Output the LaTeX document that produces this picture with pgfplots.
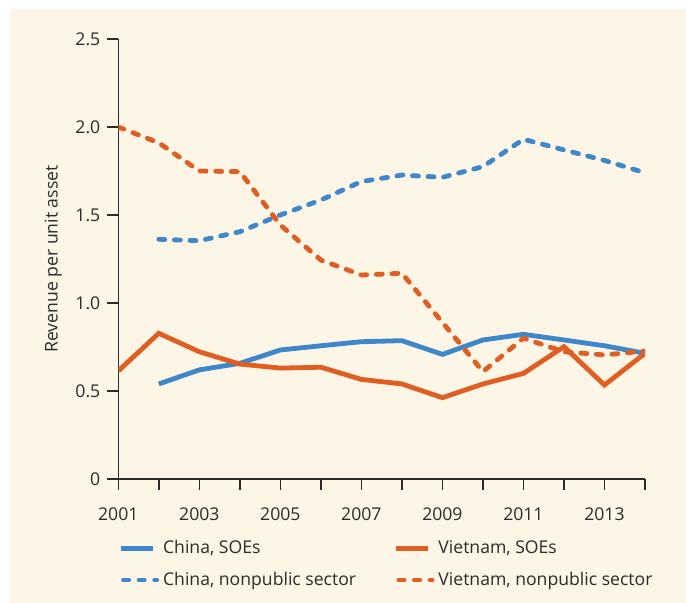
\documentclass[border=0pt]{standalone}
\usepackage{fontspec}
\setmainfont{Open Sans}
\usepackage{pgfplots}
\pgfplotsset{compat=1.18}
\definecolor{cnblue}{HTML}{3E87CB}
\definecolor{vnorange}{HTML}{E05E22}
\definecolor{panel}{HTML}{FDF5E5}
\definecolor{ink}{HTML}{2B2B2B}
\pgfplotsset{
  solidleg/.style={legend image code/.code={\draw[##1] (0pt,0pt) -- (16pt,0pt);}},
  dotleg/.style={legend image code/.code={\draw[##1, line width=2pt] (1pt,0pt) -- (18pt,0pt);}},
}
\begin{document}
\begin{tikzpicture}
\fill[white] (0,0) rectangle (343pt,-301.5pt);
\fill[panel] (5pt,-4.5pt) rectangle (343pt,-301.5pt);
\begin{axis}[
  at={(59.15pt,-239.5pt)}, anchor=south west,
  scale only axis, width=263.35pt, height=220pt,
  xmin=2001, xmax=2014, ymin=0, ymax=2.5,
  axis x line*=bottom, axis y line*=left,
  axis line style={ink,line width=0.7pt,-},
  tick style={ink,line width=0.7pt},
  tick align=outside, major tick length=5.5pt,
  xtick={2001,...,2014},
  xticklabels={2001,,2003,,2005,,2007,,2009,,2011,,2013,},
  ytick={0,0.5,1,1.5,2,2.5},
  yticklabels={0,0.5,1.0,1.5,2.0,2.5},
  /pgf/number format/assume math mode=true,
  tick label style={font=\fontsize{8.8}{10}\selectfont, text=ink},
  xticklabel style={yshift=-5.5pt},
  ylabel={Revenue per unit asset},
  ylabel style={at={(axis description cs:0,0.5)}, anchor=center, yshift=32.5pt, font=\fontsize{8.8}{10}\selectfont, text=ink},
  legend columns=2, legend cell align=left,
  legend style={draw=none, fill=none, inner sep=0pt, at={(axis description cs:0,0)}, anchor=north west, yshift=-28.5pt,
    font=\fontsize{8.8}{10}\selectfont, text=ink, row sep=3.5pt,
    /tikz/every even column/.append style={column sep=17pt}},
  solidleg,
]
\addplot[cnblue, line width=2.4pt] coordinates {(2002,0.54)(2003,0.62)(2004,0.657)(2005,0.733)(2006,0.757)(2007,0.78)(2008,0.786)(2009,0.708)(2010,0.79)(2011,0.822)(2012,0.79)(2013,0.757)(2014,0.714)};
\addlegendentry{China, SOEs}
\addplot[vnorange, line width=2.4pt] coordinates {(2001,0.614)(2002,0.828)(2003,0.723)(2004,0.653)(2005,0.63)(2006,0.635)(2007,0.566)(2008,0.54)(2009,0.462)(2010,0.54)(2011,0.60)(2012,0.752)(2013,0.534)(2014,0.714)};
\addlegendentry{Vietnam, SOEs}
\addplot[cnblue, line width=2.4pt, line cap=round, line join=round, dash pattern=on 3pt off 4.8pt, dotleg] coordinates {(2002,1.362)(2003,1.354)(2004,1.405)(2005,1.5)(2006,1.585)(2007,1.69)(2008,1.727)(2009,1.714)(2010,1.775)(2011,1.93)(2012,1.87)(2013,1.81)(2014,1.74)};
\addlegendentry{China, nonpublic sector}
\addplot[vnorange, line width=2.4pt, line cap=round, line join=round, dash pattern=on 3pt off 4.8pt, dotleg] coordinates {(2001,2.0)(2002,1.91)(2003,1.75)(2004,1.746)(2005,1.443)(2006,1.244)(2007,1.159)(2008,1.169)(2009,0.89)(2010,0.61)(2011,0.80)(2012,0.723)(2013,0.705)(2014,0.727)};
\addlegendentry{Vietnam, nonpublic sector}
\end{axis}
\end{tikzpicture}
\end{document}
